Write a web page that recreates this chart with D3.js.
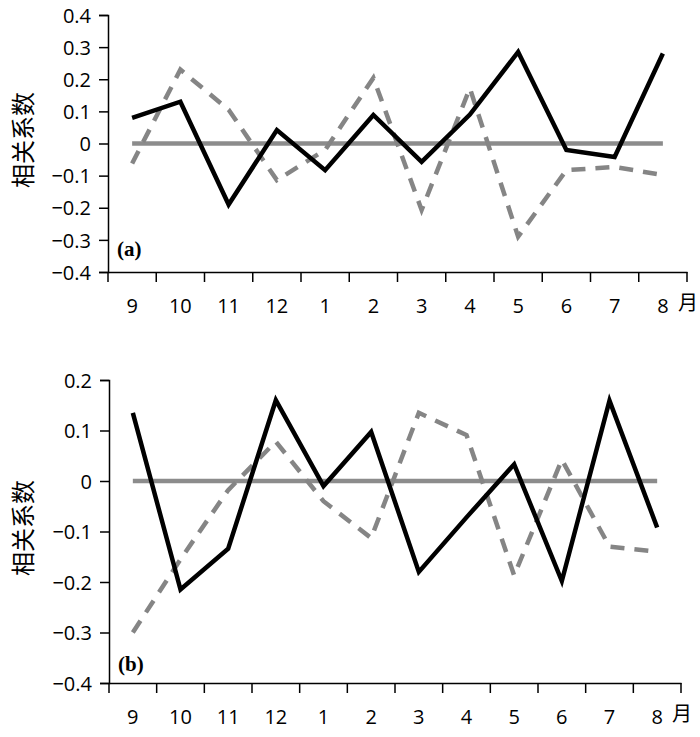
<!DOCTYPE html>
<html><head><meta charset="utf-8">
<script src="https://cdn.jsdelivr.net/npm/d3@7"></script>
<style>body{margin:0;background:#fff}svg{display:block}</style>
</head><body>
<svg id="c" width="700" height="737"></svg>
<script>
const months = ["9","10","11","12","1","2","3","4","5","6","7","8"];
const aSolid = [0.08,0.13,-0.19,0.042,-0.083,0.089,-0.057,0.09,0.285,-0.02,-0.042,0.28];
const aDashed = [-0.062,0.23,0.105,-0.114,-0.02,0.204,-0.207,0.172,-0.29,-0.083,-0.073,-0.098];
const bSolid = [0.135,-0.215,-0.134,0.16,-0.01,0.097,-0.18,-0.072,0.033,-0.198,0.159,-0.092];
const bDashed = [-0.3,-0.155,-0.018,0.078,-0.04,-0.113,0.135,0.091,-0.187,0.042,-0.13,-0.14];
const aTicks = [0.4,0.3,0.2,0.1,0,-0.1,-0.2,-0.3,-0.4];
const bTicks = [0.2,0.1,0,-0.1,-0.2,-0.3,-0.4];

const svg = d3.select("#c");
const FONT = "'Open Sans', sans-serif";
const CJK = "'Noto Sans CJK SC', sans-serif";

function panel(cfg){
  const g = svg.append("g");
  const x = d3.scaleBand().domain(months).range([cfg.x0, cfg.x1]);
  const y = d3.scaleLinear().domain(cfg.domain).range([cfg.y1, cfg.y0]);
  const cx = m => x(m) + x.bandwidth()/2;

  // y axis
  const ya = g.append("g").attr("transform",`translate(${cfg.x0},0)`)
    .call(d3.axisLeft(y).tickValues(cfg.ticks).tickSize(9).tickPadding(8)
      .tickFormat(d => d===0 ? "0" : d3.format(".1f")(d).replace("-","\u2212")));
  ya.select(".domain").attr("stroke","#000").attr("stroke-width",1.5);
  ya.selectAll(".tick line").attr("stroke","#000").attr("stroke-width",1.5);
  ya.selectAll("text").attr("font-family",FONT).attr("font-size",20).attr("fill","#000").attr("dy","0.36em");

  // x axis
  const xa = g.append("g").attr("transform",`translate(0,${cfg.y1})`)
    .call(d3.axisBottom(x).tickSize(0).tickPadding(0));
  xa.select(".domain").attr("stroke","#000").attr("stroke-width",1.5);
  xa.selectAll("text").attr("font-family",FONT).attr("font-size",20).attr("fill","#000")
    .attr("dy",null).attr("y",41);
  // tick marks at band boundaries
  const bounds = months.map(m => x(m)).concat([cfg.x1]);
  g.append("g").selectAll("line").data(bounds).join("line")
    .attr("x1",d=>d).attr("x2",d=>d).attr("y1",cfg.y1).attr("y2",cfg.y1+10)
    .attr("stroke","#000").attr("stroke-width",1.5);
  g.append("text").attr("x",cfg.x1-9).attr("y",cfg.y1+38)
    .attr("font-family",CJK).attr("font-size",20).text("月");

  // y title
  g.append("text").attr("transform",`translate(${cfg.titleX},${cfg.titleY}) rotate(-90)`)
    .attr("text-anchor","middle").attr("font-family",CJK)
    .attr("font-size",24).text("相关系数");

  // panel label
  g.append("text").attr("x",cfg.x0+9).attr("y",cfg.labY)
    .attr("font-family","'Liberation Serif', serif").attr("font-weight","bold")
    .attr("font-size",21).text(cfg.label);

  const line = d3.line().x((d,i)=>cx(months[i])).y(d=>y(d));
  // zero line
  g.append("path").datum(months.map(()=>0)).attr("d",line)
    .attr("fill","none").attr("stroke","#8c8c8c").attr("stroke-width",4.5);
  g.append("path").datum(cfg.dashed).attr("d",line)
    .attr("fill","none").attr("stroke","#858585").attr("stroke-width",4.5)
    .attr("stroke-dasharray","14,10").attr("stroke-linejoin","miter");
  g.append("path").datum(cfg.solid).attr("d",line)
    .attr("fill","none").attr("stroke","#000").attr("stroke-width",4.5)
    .attr("stroke-linejoin","miter");
}

panel({x0:108,x1:687,y0:15,y1:272,domain:[-0.4,0.4],ticks:aTicks,solid:aSolid,dashed:aDashed,
  titleX:32,titleY:140,label:"(a)",labY:256});
panel({x0:109,x1:681,y0:380,y1:683,domain:[-0.4,0.2],ticks:bTicks,solid:bSolid,dashed:bDashed,
  titleX:32,titleY:528,label:"(b)",labY:671});
</script>
</body></html>
